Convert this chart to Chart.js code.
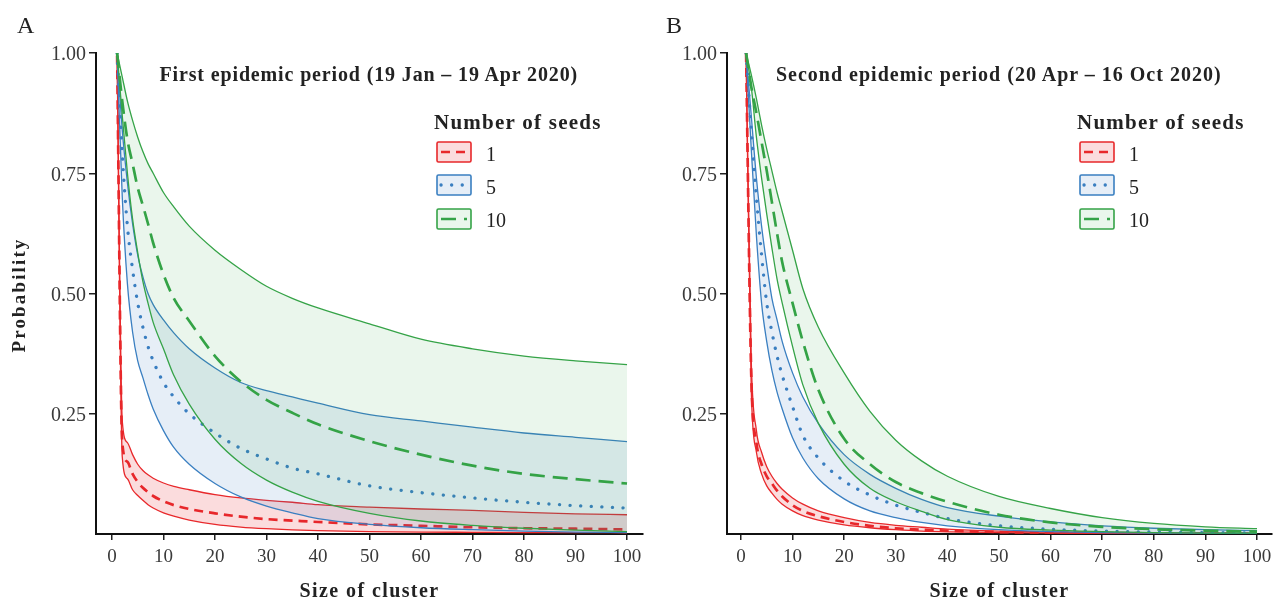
<!DOCTYPE html>
<html>
<head>
<meta charset="utf-8">
<script src="https://cdn.jsdelivr.net/npm/chart.js@4.4.1/dist/chart.umd.min.js"></script>
<style>
  body { margin: 0; background: #fff; }
  #wrap { position: relative; width: 1280px; height: 599px; overflow: hidden; font-family: "Liberation Serif", serif; color: #222; }
  canvas { position: absolute; top: 0; }
  .txt { position: absolute; white-space: nowrap; line-height: 1; }
  .key { position: absolute; }
</style>
</head>
<body>
<div id="wrap">
  <canvas id="panelA" width="650" height="599" style="left:0px"></canvas>
  <canvas id="panelB" width="640" height="599" style="left:640px"></canvas>
</div>
<script>
// cluster sizes where the curves were read
const sizes = [1,2,3,4,5,6,7,8,10,12,15,20,25,30,35,40,50,60,70,80,90,100];
const xTicks = [0,10,20,30,40,50,60,70,80,90,100];
const yTicks = [0.25,0.5,0.75,1];
const seedLabels = ['1','5','10'];
const panelTitles = ['First epidemic period (19 Jan \u2013 19 Apr 2020)', 'Second epidemic period (20 Apr \u2013 16 Oct 2020)'];

// first epidemic period
const firstLow1  = [0.99,0.16,0.115,0.092,0.08,0.07,0.061,0.054,0.044,0.037,0.029,0.02,0.0145,0.011,0.0085,0.007,0.005,0.004,0.0035,0.003,0.003,0.0025];
const firstMid1  = [0.995,0.19,0.15,0.125,0.108,0.096,0.087,0.079,0.068,0.06,0.052,0.043,0.036,0.031,0.028,0.025,0.02,0.017,0.014,0.012,0.011,0.0095];
const firstHigh1 = [1.0,0.235,0.19,0.165,0.145,0.132,0.123,0.116,0.106,0.099,0.092,0.082,0.075,0.07,0.066,0.061,0.056,0.052,0.049,0.045,0.042,0.04];
const firstLow5  = [1.0,0.7,0.52,0.42,0.36,0.325,0.29,0.26,0.215,0.18,0.145,0.105,0.077,0.058,0.044,0.032,0.02,0.013,0.009,0.006,0.004,0.003];
const firstMid5  = [1.0,0.79,0.64,0.55,0.48,0.43,0.39,0.36,0.315,0.285,0.25,0.21,0.178,0.156,0.137,0.125,0.1,0.086,0.075,0.066,0.059,0.054];
const firstHigh5 = [1.0,0.84,0.73,0.645,0.58,0.535,0.5,0.477,0.445,0.418,0.385,0.345,0.315,0.298,0.285,0.272,0.248,0.235,0.222,0.21,0.201,0.192];
const firstLow10  = [1.0,0.87,0.75,0.655,0.585,0.525,0.48,0.44,0.385,0.33,0.27,0.197,0.147,0.112,0.087,0.068,0.043,0.027,0.018,0.012,0.008,0.005];
const firstMid10  = [1.0,0.9,0.82,0.77,0.72,0.683,0.645,0.605,0.54,0.49,0.443,0.37,0.317,0.279,0.252,0.228,0.193,0.165,0.142,0.125,0.114,0.105];
const firstHigh10 = [1.0,0.95,0.9,0.86,0.825,0.795,0.77,0.75,0.71,0.68,0.64,0.59,0.55,0.515,0.49,0.47,0.437,0.405,0.385,0.37,0.36,0.352];

// second epidemic period
const secondLow1  = [1.0,0.3,0.17,0.125,0.1,0.085,0.072,0.062,0.048,0.038,0.029,0.019,0.013,0.009,0.006,0.0045,0.003,0.002,0.001,0.001,0.001,0.0005];
const secondMid1  = [1.0,0.33,0.19,0.145,0.12,0.105,0.09,0.078,0.06,0.048,0.037,0.025,0.017,0.012,0.009,0.007,0.004,0.003,0.002,0.0015,0.001,0.001];
const secondHigh1 = [1.0,0.36,0.215,0.17,0.14,0.12,0.105,0.093,0.075,0.062,0.048,0.034,0.024,0.018,0.014,0.01,0.006,0.004,0.003,0.002,0.002,0.001];
const secondLow5  = [1.0,0.8,0.62,0.48,0.4,0.34,0.295,0.26,0.2,0.158,0.115,0.073,0.048,0.034,0.024,0.017,0.009,0.005,0.003,0.002,0.0015,0.001];
const secondMid5  = [1.0,0.84,0.7,0.58,0.48,0.42,0.37,0.33,0.265,0.205,0.158,0.11,0.081,0.06,0.045,0.032,0.017,0.01,0.006,0.004,0.003,0.002];
const secondHigh5 = [1.0,0.87,0.74,0.64,0.56,0.49,0.445,0.4,0.335,0.285,0.23,0.165,0.124,0.095,0.072,0.055,0.037,0.025,0.017,0.012,0.009,0.007];
const secondLow10  = [1.0,0.93,0.825,0.74,0.665,0.595,0.53,0.48,0.39,0.31,0.23,0.145,0.095,0.067,0.047,0.03,0.014,0.008,0.005,0.003,0.002,0.002];
const secondMid10  = [1.0,0.93,0.875,0.815,0.755,0.69,0.625,0.565,0.48,0.4,0.3,0.198,0.145,0.108,0.085,0.067,0.04,0.024,0.015,0.01,0.007,0.005];
const secondHigh10 = [1.0,0.955,0.905,0.85,0.8,0.755,0.71,0.67,0.59,0.51,0.43,0.335,0.255,0.195,0.152,0.12,0.078,0.053,0.034,0.022,0.015,0.011];

const FONT = '"Liberation Serif", serif';
const red = '#e8282b', blue = '#3a7fc1', green = '#35a347';
const redFill = 'rgba(232,40,43,0.16)', blueFill = 'rgba(58,127,193,0.13)', greenFill = 'rgba(53,163,71,0.10)';
const styles = [
  {color: red, fill: redFill, dash: [9, 6], cap: 'butt', width: 2.7},
  {color: blue, fill: blueFill, dash: [0.1, 10.5], cap: 'round', width: 3.3},
  {color: green, fill: greenFill, dash: [15, 8], cap: 'butt', width: 2.7}
];

function series(arr) {
  return sizes.map((x, i) => ({x: x, y: arr[i]}));
}

function makePanel(id, groups, yWidth, padRight, xmin, xmax) {
  const datasets = [];
  // green drawn first, red last
  [2, 1, 0].forEach(k => {
    const g = groups[k], s = styles[k];
    const base = datasets.length;
    datasets.push({label: seedLabels[k] + ' low', data: series(g[0]), borderColor: s.color, borderWidth: 1.3, fill: false});
    datasets.push({label: seedLabels[k] + ' high', data: series(g[2]), borderColor: s.color, borderWidth: 1.3, fill: {target: base}, backgroundColor: s.fill});
    datasets.push({label: seedLabels[k], data: series(g[1]), borderColor: s.color, borderWidth: s.width, borderDash: s.dash, borderCapStyle: s.cap, fill: false});
  });
  return new Chart(document.getElementById(id), {
    type: 'line',
    data: {datasets},
    options: {
      responsive: false,
      animation: false,
      elements: {point: {radius: 0}, line: {cubicInterpolationMode: 'monotone'}},
      layout: {padding: {top: 53, right: padRight, left: 0, bottom: 0}},
      plugins: {legend: {display: false}, tooltip: {enabled: false}},
      scales: {
        x: {
          type: 'linear', min: xmin, max: xmax,
          afterBuildTicks: s => { s.ticks = xTicks.map(v => ({value: v})); },
          afterFit: s => { s.height = 65; },
          grid: {drawOnChartArea: false, tickLength: 6, color: '#222', lineWidth: 1.5},
          border: {color: '#111', width: 2},
          ticks: {font: {family: FONT, size: 19}, color: '#3a3a3a', padding: 6, maxRotation: 0, autoSkip: false}
        },
        y: {
          min: 0, max: 1,
          afterBuildTicks: s => { s.ticks = yTicks.map(v => ({value: v})); },
          afterFit: s => { s.width = yWidth; },
          grid: {drawOnChartArea: false, tickLength: 7, color: '#222', lineWidth: 1.5},
          border: {color: '#111', width: 2},
          ticks: {font: {family: FONT, size: 20}, color: '#3a3a3a', padding: 3, labelOffset: 2, callback: v => v.toFixed(2)}
        }
      }
    }
  });
}

const chartA = makePanel('panelA', [[firstLow1, firstMid1, firstHigh1], [firstLow5, firstMid5, firstHigh5], [firstLow10, firstMid10, firstHigh10]], 96, 7, -3.1, 103.1);
const chartB = makePanel('panelB', [[secondLow1, secondMid1, secondHigh1], [secondLow5, secondMid5, secondHigh5], [secondLow10, secondMid10, secondHigh10]], 87, 8, -2.7, 102.9);

// text overlays
const wrap = document.getElementById('wrap');
const meas = document.createElement('canvas').getContext('2d');
function addText(text, opt) {
  const el = document.createElement('div');
  el.className = 'txt';
  el.textContent = text;
  const weight = opt.bold ? 'bold ' : '';
  el.style.font = weight + opt.size + 'px ' + FONT;
  el.style.color = opt.color || '#222';
  meas.font = weight + opt.size + 'px ' + FONT;
  let w = meas.measureText(text).width;
  if (opt.width) {
    el.style.letterSpacing = ((opt.width - w) / text.length) + 'px';
    w = opt.width;
  }
  const top = opt.baseline - 0.8375 * opt.size;
  if (opt.rotate) {
    el.style.left = (opt.cx - w / 2) + 'px';
    el.style.top = (opt.cy - opt.size / 2) + 'px';
    el.style.transform = 'rotate(-90deg)';
  } else {
    el.style.left = (opt.center ? opt.x - w / 2 : opt.x) + 'px';
    el.style.top = top + 'px';
  }
  wrap.appendChild(el);
}

function keySvg(x, y, s) {
  const ns = 'http://www.w3.org/2000/svg';
  const svg = document.createElementNS(ns, 'svg');
  svg.setAttribute('width', 38); svg.setAttribute('height', 24);
  svg.setAttribute('class', 'key');
  svg.style.left = x + 'px'; svg.style.top = y + 'px';
  const r = document.createElementNS(ns, 'rect');
  r.setAttribute('x', 1); r.setAttribute('y', 1); r.setAttribute('width', 34); r.setAttribute('height', 20);
  r.setAttribute('rx', 1.5);
  r.setAttribute('fill', s.fill); r.setAttribute('stroke', s.color); r.setAttribute('stroke-width', 1.6);
  svg.appendChild(r);
  const l = document.createElementNS(ns, 'line');
  l.setAttribute('x1', 5); l.setAttribute('x2', 31); l.setAttribute('y1', 11); l.setAttribute('y2', 11);
  l.setAttribute('stroke', s.color); l.setAttribute('stroke-width', s.width);
  l.setAttribute('stroke-dasharray', s.dash.join(' ')); l.setAttribute('stroke-linecap', s.cap);
  svg.appendChild(l);
  wrap.appendChild(svg);
}

[[chartA, 0, 17, 'A', 434], [chartB, 640, 666, 'B', 1077]].forEach(([ch, off, letterX, letter, legX], p) => {
  const ca = ch.chartArea;
  const cx = off + (ca.left + ca.right) / 2;
  addText(letter, {x: letterX, baseline: 32, size: 24});
  addText(panelTitles[p], {x: cx, center: true, baseline: 80, size: 20, bold: true, width: p === 0 ? 420 : 447});
  addText('Size of cluster', {x: cx, center: true, baseline: 596, size: 20, bold: true, width: 140});
  addText('Number of seeds', {x: legX, baseline: 128, size: 21, bold: true, width: 168});
  seedLabels.forEach((lab, k) => {
    keySvg(legX + 2, 141 + k * 33.3, styles[k]);
    addText(lab, {x: legX + 52, baseline: 159.5 + k * 33.3, size: 20});
  });
  if (p === 0) {
    addText('Probability', {rotate: true, cx: 18, cy: (ca.top + ca.bottom) / 2, size: 19, bold: true, width: 115});
  }
});
</script>
</body>
</html>
